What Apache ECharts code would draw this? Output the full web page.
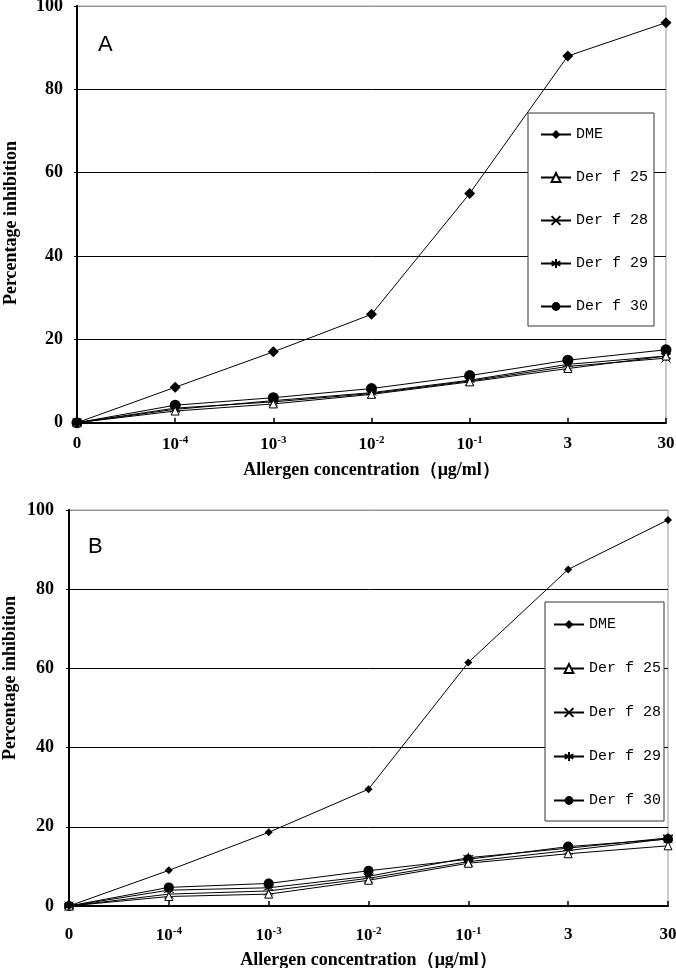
<!DOCTYPE html>
<html>
<head>
<meta charset="utf-8">
<script src="https://cdn.jsdelivr.net/npm/echarts@6/dist/echarts.min.js"></script>
<style>html,body{margin:0;padding:0;background:#fff;}#c{width:676px;height:968px;}</style>
</head>
<body>
<div id="c"></div>
<script>
// ---- data ----
const categories = ['0', '10-4', '10-3', '10-2', '10-1', '3', '30'];
const seriesNames = ['DME', 'Der f 25', 'Der f 28', 'Der f 29', 'Der f 30'];

const A_DME    = [0, 8.5, 17, 26, 55, 88, 96];
const A_Derf25 = [0, 2.8, 4.5, 6.8, 9.8, 13, 16];
const A_Derf28 = [0, 3.5, 5, 7, 10, 13.5, 15.5];
const A_Derf29 = [0, 3.2, 5.3, 7.2, 10.2, 14, 16];
const A_Derf30 = [0, 4.2, 6, 8.2, 11.3, 15, 17.5];

const B_DME    = [0, 9, 18.6, 29.5, 61.5, 85, 97.5];
const B_Derf25 = [0, 2.4, 3, 6.5, 10.8, 13.2, 15.2];
const B_Derf28 = [0, 3, 3.8, 7, 11.2, 14, 17];
const B_Derf29 = [0, 4, 4.6, 7.5, 12.2, 14.6, 17.2];
const B_Derf30 = [0, 4.7, 5.7, 8.9, 11.8, 15, 16.9];

const panelLabels = ['A', 'B'];
const xTitle = 'Allergen concentration\uFF08\u03BCg/ml\uFF09';
const yTitle = 'Percentage inhibition';

// ---- styles ----
const SERIF = '"Liberation Serif", "Times New Roman", serif';
const MONO = '"Liberation Mono", "DejaVu Sans Mono", monospace';
const symbols = [
  {symbol: 'diamond', filled: true},
  {symbol: 'triangle', filled: false},
  {symbol: 'path://M0,0L10,10M10,0L0,10', filled: false},
  {symbol: 'path://M5,0L5,10M0,2.5L10,7.5M0,7.5L10,2.5', filled: false},
  {symbol: 'circle', filled: true}
];
const symSizesA = [11, 8, 9, 10, 11];
const symSizesB = [8, 8, 9, 10, 10];

const grids = [
  {left: 77, right: 10, top: 6, height: 416.7},
  {left: 69, right: 8, top: 510, height: 396}
];
const xLabelMargin = [12, 20];
const xNameGap = [39, 45];
const yLabelMargin = [14, 15];

function xAxisFor(i) {
  return {
    type: 'category', gridIndex: i, data: categories, boundaryGap: false,
    axisLine: {lineStyle: {color: '#000', width: 2}},
    axisTick: {inside: true, length: 5, lineStyle: {color: '#000', width: 1.5}},
    axisLabel: {
      margin: xLabelMargin[i], color: '#000',
      formatter: v => v.indexOf('10-') === 0 ? '{b|10}{s|' + v.slice(2) + '}' : '{b|' + v + '}',
      rich: {
        b: {fontFamily: SERIF, fontWeight: 'bold', fontSize: 17, color: '#000'},
        s: {fontFamily: SERIF, fontWeight: 'bold', fontSize: 11, color: '#000', padding: [0, 0, 8, 0]}
      }
    },
    name: xTitle, nameLocation: 'middle', nameGap: xNameGap[i],
    nameTextStyle: {fontFamily: SERIF, fontWeight: 'bold', fontSize: 18, color: '#000'},
    splitLine: {show: false}
  };
}
function yAxisFor(i) {
  return {
    type: 'value', gridIndex: i, min: 0, max: 100, interval: 20,
    axisLine: {show: true, lineStyle: {color: '#000', width: 2}},
    axisTick: {show: true, length: 3, lineStyle: {color: '#000'}},
    axisLabel: {margin: yLabelMargin[i], color: '#000', fontFamily: SERIF, fontWeight: 'bold', fontSize: 18},
    splitLine: {show: true, lineStyle: {color: ['#000', '#000', '#000', '#000', '#000', '#999'], width: 1}}
  };
}

function makeSeries(gi, arrays, sizes) {
  return arrays.map((d, k) => ({
    name: seriesNames[k], type: 'line', xAxisIndex: gi, yAxisIndex: gi,
    data: d, symbol: symbols[k].symbol, symbolSize: sizes[k],
    showAllSymbol: true, z: 10 - k,
    lineStyle: {color: '#000', width: 1},
    itemStyle: symbols[k].filled
      ? {color: '#000', borderColor: '#000', borderWidth: 0}
      : {color: symbols[k].symbol === 'triangle' ? '#fff' : 'rgba(0,0,0,0)', borderColor: '#000', borderWidth: 1},
    emphasis: {disabled: true},
    animation: false
  }));
}

const legends = [
  {left: 528, top: 113, padding: [14, 6, 12, 12], itemGap: 28},
  {left: 545, top: 602, padding: [15, 3, 13, 8], itemGap: 29}
].map(l => ({
  orient: 'vertical', left: l.left, top: l.top, padding: l.padding, itemGap: l.itemGap,
  itemWidth: 30, itemHeight: 11, borderColor: '#333', borderWidth: 1, backgroundColor: '#fff',
  data: seriesNames, selectedMode: false,
  textStyle: {fontFamily: MONO, fontSize: 15, color: '#000', lineHeight: 14}
}));

const chart = echarts.init(document.getElementById('c'), null, {renderer: 'canvas'});
chart.setOption({
  animation: false,
  backgroundColor: '#fff',
  grid: grids.map(g => Object.assign({show: true, borderColor: '#999', borderWidth: 1, backgroundColor: 'transparent',
    containLabel: false, outerBoundsMode: 'none'}, g)),
  xAxis: [xAxisFor(0), xAxisFor(1)],
  yAxis: [yAxisFor(0), yAxisFor(1)],
  legend: legends,
  series: makeSeries(0, [A_DME, A_Derf25, A_Derf28, A_Derf29, A_Derf30], symSizesA)
    .concat(makeSeries(1, [B_DME, B_Derf25, B_Derf28, B_Derf29, B_Derf30], symSizesB)),
  graphic: [
    {type: 'text', left: 98, top: 34, style: {text: panelLabels[0], font: '22px "Liberation Sans", Arial, sans-serif', fill: '#000'}},
    {type: 'text', left: 88, top: 536, style: {text: panelLabels[1], font: '22px "Liberation Sans", Arial, sans-serif', fill: '#000'}},
    {type: 'text', x: 11, y: 223, rotation: Math.PI / 2,
     style: {text: yTitle, font: 'bold 18px "Liberation Serif", serif', fill: '#000', textAlign: 'center', textVerticalAlign: 'middle'}},
    {type: 'text', x: 10, y: 678, rotation: Math.PI / 2,
     style: {text: yTitle, font: 'bold 18px "Liberation Serif", serif', fill: '#000', textAlign: 'center', textVerticalAlign: 'middle'}}
  ]
});
</script>
</body>
</html>
